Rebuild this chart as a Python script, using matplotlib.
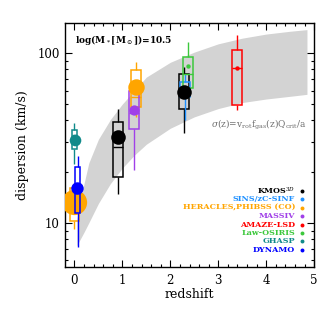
import matplotlib
matplotlib.use('Agg')
import matplotlib.pyplot as plt

plt.rcParams['font.family'] = ['DejaVu Serif']
plt.rcParams['mathtext.fontset'] = 'dejavuserif'

# grey model band
band_z = [0.05, 0.1, 0.2, 0.3, 0.5, 0.75, 1.0, 1.25, 1.5, 2.0, 2.5, 3.0, 3.5, 4.0, 4.5, 4.85]
band_hi = [10.5, 12.5, 17, 22.5, 31, 40.5, 50, 60, 72, 88, 101, 113, 122, 129, 134, 137]
band_lo = [7.3, 7.8, 8.8, 10, 13, 17, 21, 25, 29, 36, 42, 47, 51, 53.5, 55.5, 57]

names = ['KMOS$^{3D}$', 'SINS/zC-SINF', 'HERACLES,PHIBSS (CO)', 'MASSIV',
         'AMAZE-LSD', 'Law-OSIRIS', 'GHASP', 'DYNAMO']
colors = ['black', '#1E90FF', '#FFA500', '#A040E8', '#FF0000', '#3CC83C', '#108A8A', '#0000FF']

# box plots (drawn in this order)
box_z = [0.0, 1.29, 1.24, 0.915, 2.28, 2.31, 2.36, 3.40, 0.0, 0.065]
box_lo = [10.2, 47.7, 35.4, 18.7, 46.7, 54.7, 61.7, 49.2, 27, 11.4]
box_hi = [16.1, 79, 60, 39.3, 75, 67, 94.7, 103.7, 35, 21.2]
box_med = [13.0, 55, 44, 28, 58, 60, 75, 81, 33, 15]
wh_lo = [9.2, 42, 20.4, 14.7, 33.6, 40.5, 55, 46, 22.3, 7.2]
wh_hi = [17, 88.5, 69, 47, 82.8, 75, 116, 127, 38.5, 24.7]
box_w = [0.19, 0.2, 0.2, 0.21, 0.21, 0.21, 0.21, 0.21, 0.1, 0.1]
box_col = [2, 2, 3, 0, 0, 1, 5, 4, 6, 7]

# filled points
pt_z = [0.0, 1.285, 1.243, 0.915, 2.28, 2.36, 3.40, 0.006, 0.063]
pt_v = [13.3, 63, 46.4, 31.8, 58.5, 84, 81, 30.9, 16.1]
pt_s = [330, 140, 55, 110, 110, 10, 10, 70, 80]
pt_col = [2, 2, 3, 0, 0, 5, 4, 6, 7]

fig = plt.figure(figsize=(3.36, 3.14), dpi=100)
ax = fig.add_axes([0.193, 0.150, 0.742, 0.777])
ax.set_yscale('log')
ax.fill_between(band_z, band_lo, band_hi, color='#d3d3d3', lw=0, zorder=1)

for i in range(len(box_z)):
    c = colors[box_col[i]]
    zo = 3 + i * 0.1
    if i == 9:
        zo = 6
    ax.vlines(box_z[i], wh_lo[i], box_lo[i], color=c, lw=1.0, zorder=zo)
    ax.vlines(box_z[i], box_hi[i], wh_hi[i], color=c, lw=1.0, zorder=zo)
    ax.bar(box_z[i], box_hi[i] - box_lo[i], bottom=box_lo[i], width=box_w[i],
           fill=False, edgecolor=c, lw=1.1, zorder=zo)
    ax.hlines(box_med[i], box_z[i] - box_w[i] / 2, box_z[i] + box_w[i] / 2,
              color=c, lw=1.0, zorder=zo)

for i in range(len(pt_z)):
    zo = 7 if i == 8 else 4
    if i == 0:
        zo = 5
    ax.scatter(pt_z[i], pt_v[i], s=pt_s[i], color=colors[pt_col[i]], lw=0, zorder=zo)

ax.set_xlim(-0.2, 5)
ax.set_ylim(5.5, 150)
ax.set_xticks([0, 1, 2, 3, 4, 5])
ax.set_xticks([x / 5 for x in range(0, 25)], minor=True)
ax.set_yticks([10, 100])
ax.set_yticklabels(['10', '100'])
ax.tick_params(which='both', direction='in', top=True, right=True, labelsize=8.5)
ax.tick_params(axis='x', which='major', pad=5)
ax.tick_params(which='major', length=5, width=0.8)
ax.tick_params(which='minor', length=2.5, width=0.8)
ax.tick_params(axis='y', which='minor', labelleft=False)
for sp in ax.spines.values():
    sp.set_linewidth(1.0)
ax.set_xlabel('redshift', fontsize=9, labelpad=1)
ax.set_ylabel('dispersion (km/s)', fontsize=9, labelpad=6)

ax.text(0.04, 0.93, r'log(M$_*$[M$_\odot$])=10.5', transform=ax.transAxes,
        fontsize=6.5, fontweight='bold', va='center', ha='left')
ax.text(0.968, 0.582, r'$\sigma$(z)=v$_{\rm rot}$f$_{\rm gas}$(z)Q$_{\rm crit}$/a',
        transform=ax.transAxes, fontsize=6.5, color='#707070', va='center', ha='right')

for i, (n, c) in enumerate(zip(names, colors)):
    y = 0.311 - i * 0.0344
    ax.text(0.924, y, n, transform=ax.transAxes, fontsize=5.8, color=c,
            fontweight='bold', ha='right', va='center')
    ax.scatter([0.95], [y], s=8, color=c, transform=ax.transAxes, lw=0, zorder=8)

fig.savefig('out.png', dpi=100)
